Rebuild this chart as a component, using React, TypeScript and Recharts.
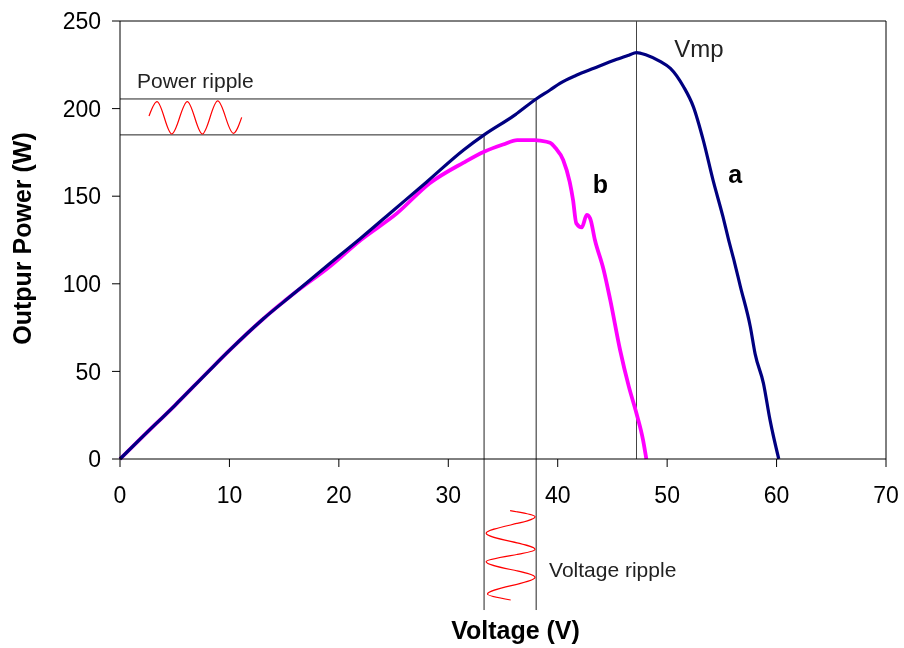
import React from "react";
import { LineChart, Line, XAxis, YAxis, ReferenceLine, ReferenceDot, Curve } from "recharts";

const FONT = "'Liberation Sans', Arial, sans-serif";

const voltTicks = [0, 10, 20, 30, 40, 50, 60, 70];
const powerTicks = [0, 50, 100, 150, 200, 250];

// curve a (full irradiance)
const curveA = [
  { v: 0, w: 0 }, { v: 2, w: 12.3 }, { v: 5, w: 30.5 }, { v: 8, w: 49.5 },
  { v: 10, w: 62 }, { v: 13, w: 79.5 }, { v: 16, w: 95 }, { v: 19.2, w: 111.7 },
  { v: 22, w: 126 }, { v: 25, w: 142 }, { v: 28, w: 158 }, { v: 31.4, w: 176.4 },
  { v: 33.27, w: 185 }, { v: 36, w: 196 }, { v: 38.03, w: 205.5 }, { v: 39.3, w: 210.6 },
  { v: 40.2, w: 214.4 }, { v: 41.7, w: 219 }, { v: 43.3, w: 223 }, { v: 45.4, w: 228.1 },
  { v: 46.5, w: 230.5 }, { v: 47.2, w: 232 }, { v: 48.1, w: 230.6 }, { v: 49.4, w: 226.8 },
  { v: 50.3, w: 223 }, { v: 51.5, w: 212.5 }, { v: 52.4, w: 201 }, { v: 53.3, w: 182 },
  { v: 54.2, w: 159 }, { v: 55.1, w: 138.3 }, { v: 55.6, w: 125.5 }, { v: 56.1, w: 113.6 },
  { v: 56.7, w: 98.3 }, { v: 57.6, w: 75.5 }, { v: 58.04, w: 60 }, { v: 58.8, w: 43.2 },
  { v: 59.4, w: 22.3 }, { v: 60.2, w: 0 },
];

// curve b (partial shading)
const curveB = [
  { v: 0, w: 0 }, { v: 2, w: 12.3 }, { v: 5, w: 30.5 }, { v: 8, w: 49.5 },
  { v: 10, w: 62 }, { v: 13, w: 79.5 }, { v: 16, w: 95 }, { v: 19.2, w: 110 },
  { v: 22, w: 125 }, { v: 25.3, w: 140.2 }, { v: 28.3, w: 157.4 }, { v: 31.4, w: 169.2 },
  { v: 33.27, w: 175.4 }, { v: 35, w: 179.5 }, { v: 36.3, w: 182 }, { v: 37.9, w: 182 },
  { v: 38.4, w: 181.7 }, { v: 39.3, w: 180.5 }, { v: 39.8, w: 177.5 }, { v: 40.5, w: 170.7 },
  { v: 41.1, w: 158 }, { v: 41.4, w: 147.8 }, { v: 41.7, w: 134.5 }, { v: 42.2, w: 132.2 },
  { v: 42.65, w: 139.3 }, { v: 42.96, w: 137.4 }, { v: 43.4, w: 125 }, { v: 44.2, w: 107.9 },
  { v: 44.8, w: 90.8 }, { v: 45.7, w: 62.2 }, { v: 46.5, w: 41.3 }, { v: 47.2, w: 26 },
  { v: 47.8, w: 10.8 }, { v: 48.1, w: 0 },
];

// ripple sketches
const powerRipple = [
  { v: 2.65, w: 195.8 }, { v: 3.38, w: 204 }, { v: 4.73, w: 185.5 }, { v: 6.15, w: 204 },
  { v: 7.52, w: 185.5 }, { v: 8.93, w: 204.4 }, { v: 10.36, w: 185.9 }, { v: 11.12, w: 195 },
];
const voltageRipple = [
  { v: 35.65, w: -29.5 }, { v: 37.93, w: -32.9 }, { v: 33.46, w: -42.4 }, { v: 37.93, w: -51.6 },
  { v: 33.46, w: -58.6 }, { v: 37.93, w: -67.5 }, { v: 33.58, w: -77.1 }, { v: 35.7, w: -80.5 },
];

const vLow = 33.27;
const vHigh = 38.03;
const pLow = 185;
const pHigh = 205.5;
const vmp = 47.2;
const guideBottom = -86.2;

const note = (text: string, size: number, bold = false, fill = "#000") => (p: any) => (
  <text x={p.cx} y={p.cy} fontSize={size} fontWeight={bold ? "bold" : "normal"} fontFamily={FONT} fill={fill}>
    {text}
  </text>
);

const rippleShape = (p: any) => {
  const sx = (p.x2 - p.x1) / 70;
  const sy = (p.y2 - p.y1) / 250;
  const pts = voltageRipple.map((d) => ({ x: p.x1 + d.v * sx, y: p.y1 + d.w * sy }));
  return <Curve type="monotoneY" points={pts} stroke="#ff0000" strokeWidth={1.2} fill="none" />;
};

export default function App() {
  return (
    <div style={{ position: "fixed", left: 8, top: 8, width: 896, height: 640 }}>
      <LineChart width={896} height={640} margin={{ top: 13, right: 18, bottom: 0, left: 0 }}>
        <XAxis
          type="number"
          dataKey="v"
          domain={[0, 70]}
          ticks={voltTicks}
          interval={0}
          height={189}
          tickSize={8}
          tickMargin={20}
          stroke="#000"
          tick={{ fill: "#000", fontSize: 23, fontFamily: FONT }}
          label={(props: any) => {
            const vb = props.viewBox;
            return (
              <text x={vb.x + vb.width / 2 + 12.5} y={vb.y + vb.height - 9.5} textAnchor="middle"
                fontSize={25} fontWeight="bold" fontFamily={FONT} fill="#000">
                Voltage (V)
              </text>
            );
          }}
        />
        <YAxis
          type="number"
          domain={[0, 250]}
          ticks={powerTicks}
          interval={0}
          width={112}
          tickSize={8}
          tickMargin={11}
          stroke="#000"
          tick={{ fill: "#000", fontSize: 23, fontFamily: FONT }}
          label={(props: any) => {
            const vb = props.viewBox;
            const cx = vb.x + 13.5;
            const cy = vb.y + vb.height / 2 - 1.5;
            return (
              <text x={cx} y={cy} transform={`rotate(-90 ${cx} ${cy})`} textAnchor="middle" dominantBaseline="central"
                fontSize={25} fontWeight="bold" fontFamily={FONT} fill="#000">
                Outpur Power (W)
              </text>
            );
          }}
        />

        <ReferenceLine y={250} stroke="#000" />
        <ReferenceLine x={70} stroke="#000" />
        <ReferenceLine x={vmp} stroke="#444" />

        <ReferenceLine segment={[{ x: 0, y: pHigh }, { x: vHigh, y: pHigh }]} stroke="#222" />
        <ReferenceLine segment={[{ x: 0, y: pLow }, { x: vLow, y: pLow }]} stroke="#222" />
        <ReferenceLine segment={[{ x: vLow, y: pLow }, { x: vLow, y: guideBottom }]} ifOverflow="visible" stroke="#222" />
        <ReferenceLine segment={[{ x: vHigh, y: pHigh }, { x: vHigh, y: guideBottom }]} ifOverflow="visible" stroke="#222" />

        <ReferenceLine segment={[{ x: 0, y: 0 }, { x: 70, y: 250 }]} ifOverflow="visible" shape={rippleShape} />

        <Line data={powerRipple} dataKey="w" type="monotone" stroke="#ff0000" strokeWidth={1.2}
          dot={false} activeDot={false} isAnimationActive={false} />
        <Line data={curveB} dataKey="w" type="monotone" stroke="#ff00ff" strokeWidth={3.8}
          dot={false} activeDot={false} isAnimationActive={false} />
        <Line data={curveA} dataKey="w" type="monotone" stroke="#000080" strokeWidth={3.2}
          dot={false} activeDot={false} isAnimationActive={false} />

        <ReferenceDot x={1.55} y={211.8} r={0} shape={note("Power ripple", 21, false, "#222")} />
        <ReferenceDot x={39.21} y={-67.5} r={0} ifOverflow="visible" shape={note("Voltage ripple", 21, false, "#222")} />
        <ReferenceDot x={50.64} y={229.6} r={0} shape={note("Vmp", 24, false, "#222")} />
        <ReferenceDot x={43.2} y={151.7} r={0} shape={note("b", 25, true)} />
        <ReferenceDot x={55.58} y={157.4} r={0} shape={note("a", 25, true)} />
      </LineChart>
    </div>
  );
}
